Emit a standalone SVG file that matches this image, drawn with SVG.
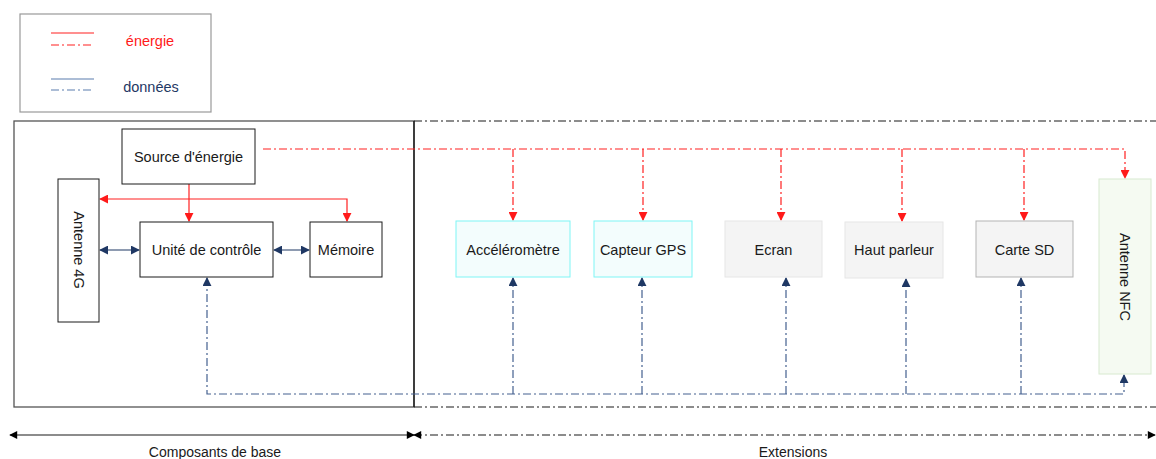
<svg xmlns="http://www.w3.org/2000/svg" width="1156" height="459" viewBox="0 0 1156 459">
<style>
text{font-family:"Liberation Sans",Arial,sans-serif;font-size:14.5px;fill:#1a1a1a;text-anchor:middle;dominant-baseline:central}
.box{fill:#fff;stroke:#1a1a1a;stroke-width:1}
.red{stroke:#ff2020;stroke-width:1.2;fill:none}
.redd{stroke:#ff2020;stroke-width:1.2;fill:none;stroke-dasharray:8 3 2 3}
.blu{stroke:#1f3864;stroke-width:1.2;fill:none}
.blud{stroke:#44608f;stroke-width:1.2;fill:none;stroke-dasharray:8 3 2 3}
.blk{stroke:#1a1a1a;stroke-width:1.2;fill:none}
.blkd{stroke:#1a1a1a;stroke-width:1.2;fill:none;stroke-dasharray:8 3 2 3}
</style>
<defs>
<marker id="ar" viewBox="0 0 10 10" refX="9" refY="5" markerWidth="9" markerHeight="9" markerUnits="userSpaceOnUse" orient="auto-start-reverse"><path d="M0,0 L10,5 L0,10 z" fill="#ff1a1a"/></marker>
<marker id="ab" viewBox="0 0 10 10" refX="9" refY="5" markerWidth="9" markerHeight="9" markerUnits="userSpaceOnUse" orient="auto-start-reverse"><path d="M0,0 L10,5 L0,10 z" fill="#1f3864"/></marker>
<marker id="ak" viewBox="0 0 10 10" refX="9" refY="5" markerWidth="9" markerHeight="8" markerUnits="userSpaceOnUse" orient="auto-start-reverse"><path d="M0,0 L10,5 L0,10 z" fill="#000"/></marker>
</defs>

<g id="legend">
<rect x="20" y="14" width="191" height="98" fill="#fff" stroke="#999" stroke-width="1.2"/>
<line x1="51" y1="33" x2="94" y2="33" class="red"/>
<line x1="51" y1="45" x2="94" y2="45" class="redd"/>
<text x="150" y="41" style="fill:#ff1a1a">énergie</text>
<line x1="51" y1="79" x2="94" y2="79" stroke="#5b7cad" stroke-width="1.2"/>
<line x1="51" y1="90" x2="94" y2="90" stroke="#5b7cad" stroke-width="1.2" stroke-dasharray="8 3 2 3"/>
<text x="151" y="87" style="fill:#1f3864">données</text>
</g>

<g id="frames">
<rect x="14" y="121" width="400" height="286" fill="none" stroke="#555" stroke-width="1.3"/>
<line x1="414" y1="121" x2="414" y2="407" stroke="#111" stroke-width="1.3"/>
<line x1="414" y1="121" x2="1156" y2="121" class="blkd"/>
<line x1="414" y1="407" x2="1156" y2="407" class="blkd"/>
</g>

<g id="connectors">
<line x1="189" y1="184" x2="189" y2="221" class="red" marker-end="url(#ar)"/>
<polyline points="100,199 347,199 347,221" class="red" marker-start="url(#ar)" marker-end="url(#ar)"/>
<line x1="100" y1="250" x2="139" y2="250" class="blu" marker-start="url(#ab)" marker-end="url(#ab)"/>
<line x1="274" y1="250" x2="309" y2="250" class="blu" marker-start="url(#ab)" marker-end="url(#ab)"/>
<polyline points="263,149 1125,149 1125,178" class="redd" marker-end="url(#ar)"/>
<line x1="513" y1="149" x2="513" y2="220" class="redd" marker-end="url(#ar)"/>
<line x1="643" y1="149" x2="643" y2="220" class="redd" marker-end="url(#ar)"/>
<line x1="781" y1="149" x2="781" y2="220" class="redd" marker-end="url(#ar)"/>
<line x1="902" y1="149" x2="902" y2="221" class="redd" marker-end="url(#ar)"/>
<line x1="1024" y1="149" x2="1024" y2="220" class="redd" marker-end="url(#ar)"/>
<polyline points="207,278 207,394 1124,394 1124,375" class="blud" marker-start="url(#ab)" marker-end="url(#ab)"/>
<line x1="513" y1="394" x2="513" y2="278" class="blud" marker-end="url(#ab)"/>
<line x1="642" y1="394" x2="642" y2="278" class="blud" marker-end="url(#ab)"/>
<line x1="786" y1="394" x2="786" y2="278" class="blud" marker-end="url(#ab)"/>
<line x1="906" y1="394" x2="906" y2="279" class="blud" marker-end="url(#ab)"/>
<line x1="1021" y1="394" x2="1021" y2="278" class="blud" marker-end="url(#ab)"/>
<line x1="10" y1="435" x2="414" y2="435" class="blk" marker-start="url(#ak)" marker-end="url(#ak)"/>
<line x1="414" y1="435" x2="1155" y2="435" class="blkd" marker-start="url(#ak)" marker-end="url(#ak)"/>
</g>

<g id="source"><rect x="122" y="129" width="133" height="55" class="box"/><text x="188.5" y="157">Source d'énergie</text></g>
<g id="antenne4g"><rect x="58" y="179" width="41" height="143" class="box"/><text transform="translate(79,250) rotate(90)">Antenne 4G</text></g>
<g id="unite"><rect x="140" y="222" width="133" height="55" class="box"/><text x="206.5" y="250">Unité de contrôle</text></g>
<g id="memoire"><rect x="310" y="222" width="72" height="55" class="box"/><text x="346" y="250">Mémoire</text></g>

<g id="accel"><rect x="456" y="221" width="114" height="56" fill="#f3fdfd" stroke="#7ff5f5" stroke-width="1"/><text x="513" y="250">Accéléromètre</text></g>
<g id="gps"><rect x="594" y="221" width="98" height="56" fill="#f3fdfd" stroke="#7ff5f5" stroke-width="1"/><text x="643" y="250">Capteur GPS</text></g>
<g id="ecran"><rect x="725" y="221" width="97" height="56" fill="#f4f4f4" stroke="#e6e6e6" stroke-width="1"/><text x="773.5" y="250">Ecran</text></g>
<g id="haut"><rect x="845" y="222" width="98" height="56" fill="#f4f4f4" stroke="#e6e6e6" stroke-width="1"/><text x="894" y="250">Haut parleur</text></g>
<g id="sd"><rect x="976" y="221" width="97" height="56" fill="#f4f4f4" stroke="#b3b3b3" stroke-width="1"/><text x="1024.5" y="250">Carte SD</text></g>
<g id="nfc"><rect x="1099" y="179" width="52" height="195" fill="#f5faf2" stroke="#d8ead0" stroke-width="1"/><text transform="translate(1125,277) rotate(90)">Antenne NFC</text></g>

<g id="labels">
<text x="215" y="452" style="font-size:14px">Composants de base</text>
<text x="793" y="452" style="font-size:14px">Extensions</text>
</g>
</svg>
